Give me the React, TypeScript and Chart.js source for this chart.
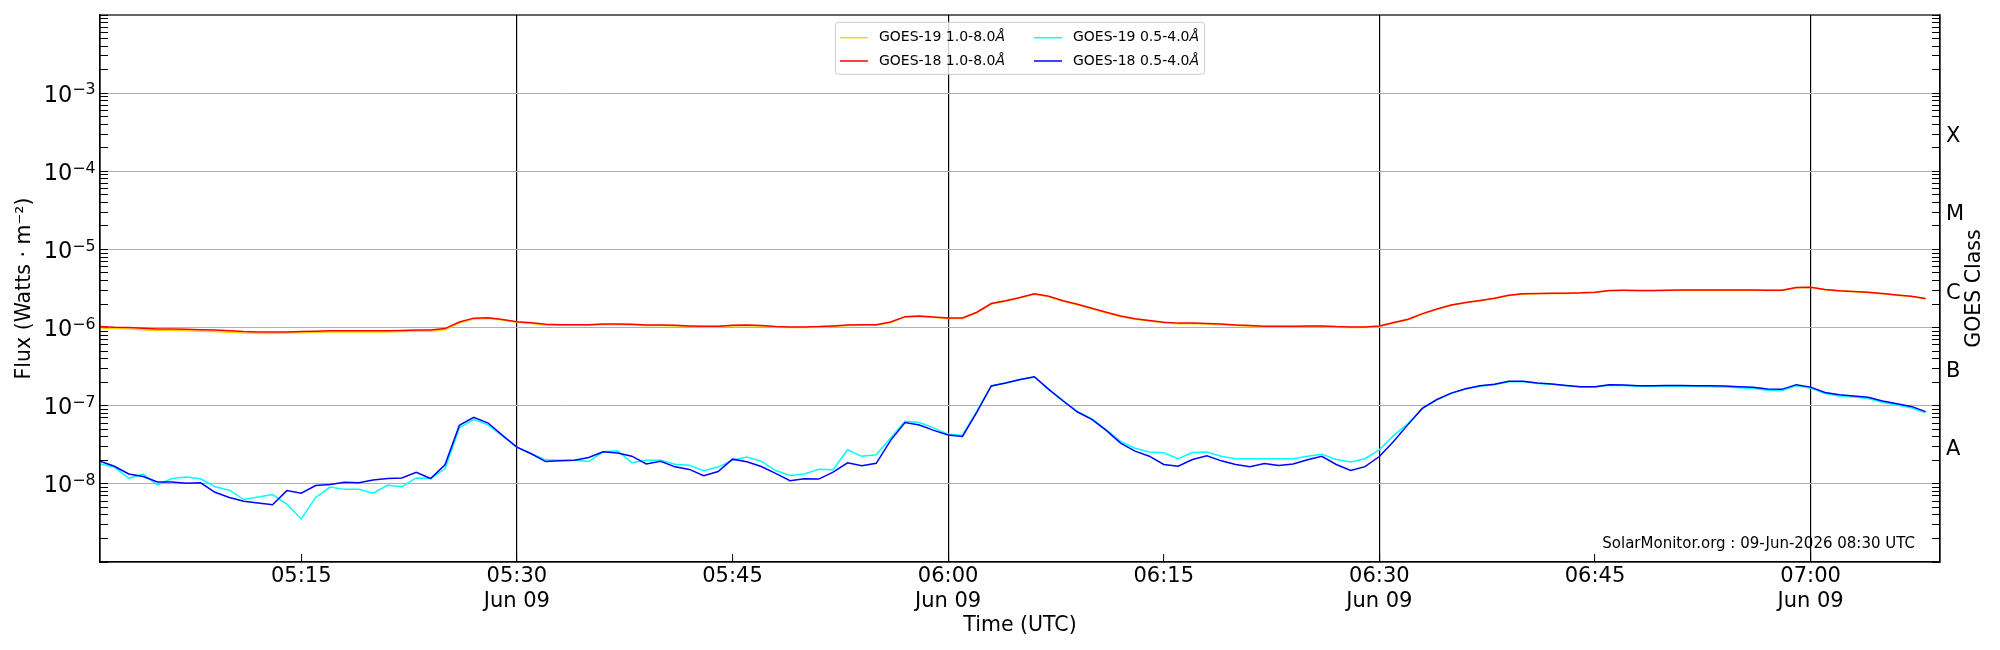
import React, { useEffect, useRef } from 'react';
import { Chart, registerables } from 'chart.js';

Chart.register(...registerables);

// one sample per minute, starting 05:01 UTC
const START_MINUTE = 5 * 60 + 1;

const goes19Long = [
  9.9e-7, 9.7e-7, 9.6e-7, 9.4e-7, 9.2e-7, 9.2e-7, 9.1e-7, 9.0e-7,
  8.9e-7, 8.7e-7, 8.5e-7, 8.4e-7, 8.4e-7, 8.5e-7, 8.6e-7, 8.7e-7,
  8.8e-7, 8.8e-7, 8.8e-7, 8.8e-7, 8.8e-7, 8.9e-7, 9.0e-7, 9.0e-7,
  9.4e-7, 1.15e-6, 1.29e-6, 1.31e-6, 1.25e-6, 1.17e-6, 1.13e-6, 1.08e-6,
  1.07e-6, 1.07e-6, 1.07e-6, 1.09e-6, 1.09e-6, 1.08e-6, 1.06e-6, 1.06e-6,
  1.05e-6, 1.03e-6, 1.02e-6, 1.02e-6, 1.05e-6, 1.06e-6, 1.04e-6, 1.01e-6,
  1.0e-6, 1.0e-6, 1.01e-6, 1.03e-6, 1.06e-6, 1.07e-6, 1.07e-6, 1.16e-6,
  1.36e-6, 1.39e-6, 1.35e-6, 1.31e-6, 1.31e-6, 1.55e-6, 2.0e-6, 2.17e-6,
  2.4e-6, 2.67e-6, 2.49e-6, 2.17e-6, 1.96e-6, 1.74e-6, 1.55e-6, 1.39e-6,
  1.28e-6, 1.21e-6, 1.15e-6, 1.12e-6, 1.12e-6, 1.11e-6, 1.09e-6, 1.06e-6,
  1.04e-6, 1.02e-6, 1.02e-6, 1.02e-6, 1.03e-6, 1.03e-6, 1.01e-6, 1.0e-6,
  1.0e-6, 1.03e-6, 1.14e-6, 1.26e-6, 1.49e-6, 1.71e-6, 1.93e-6, 2.07e-6,
  2.2e-6, 2.36e-6, 2.58e-6, 2.68e-6, 2.71e-6, 2.73e-6, 2.73e-6, 2.76e-6,
  2.82e-6, 2.97e-6, 2.98e-6, 2.97e-6, 2.97e-6, 2.98e-6, 3.0e-6, 3.0e-6,
  3.01e-6, 3.01e-6, 3.01e-6, 3.0e-6, 2.98e-6, 2.98e-6, 3.24e-6, 3.27e-6,
  3.05e-6, 2.93e-6, 2.88e-6, 2.82e-6, 2.71e-6, 2.6e-6, 2.5e-6, 2.33e-6,
];

const goes18Long = [
  1.03e-6, 1.01e-6, 1.0e-6, 9.8e-7, 9.6e-7, 9.6e-7, 9.5e-7, 9.4e-7,
  9.3e-7, 9.1e-7, 8.9e-7, 8.8e-7, 8.8e-7, 8.8e-7, 8.9e-7, 9.0e-7,
  9.1e-7, 9.1e-7, 9.1e-7, 9.1e-7, 9.1e-7, 9.2e-7, 9.3e-7, 9.3e-7,
  9.7e-7, 1.18e-6, 1.32e-6, 1.34e-6, 1.27e-6, 1.19e-6, 1.15e-6, 1.1e-6,
  1.09e-6, 1.09e-6, 1.09e-6, 1.11e-6, 1.11e-6, 1.1e-6, 1.08e-6, 1.08e-6,
  1.07e-6, 1.05e-6, 1.04e-6, 1.04e-6, 1.07e-6, 1.08e-6, 1.06e-6, 1.03e-6,
  1.02e-6, 1.02e-6, 1.03e-6, 1.05e-6, 1.08e-6, 1.09e-6, 1.09e-6, 1.18e-6,
  1.38e-6, 1.41e-6, 1.37e-6, 1.33e-6, 1.33e-6, 1.57e-6, 2.03e-6, 2.2e-6,
  2.43e-6, 2.7e-6, 2.52e-6, 2.2e-6, 1.99e-6, 1.77e-6, 1.57e-6, 1.41e-6,
  1.3e-6, 1.23e-6, 1.17e-6, 1.14e-6, 1.14e-6, 1.13e-6, 1.11e-6, 1.08e-6,
  1.06e-6, 1.04e-6, 1.04e-6, 1.04e-6, 1.05e-6, 1.05e-6, 1.03e-6, 1.02e-6,
  1.02e-6, 1.05e-6, 1.16e-6, 1.28e-6, 1.51e-6, 1.73e-6, 1.95e-6, 2.09e-6,
  2.22e-6, 2.38e-6, 2.6e-6, 2.7e-6, 2.73e-6, 2.75e-6, 2.75e-6, 2.78e-6,
  2.84e-6, 2.99e-6, 3.0e-6, 2.99e-6, 2.99e-6, 3.0e-6, 3.02e-6, 3.02e-6,
  3.03e-6, 3.03e-6, 3.03e-6, 3.02e-6, 3.0e-6, 3.0e-6, 3.26e-6, 3.29e-6,
  3.07e-6, 2.95e-6, 2.9e-6, 2.84e-6, 2.73e-6, 2.62e-6, 2.52e-6, 2.35e-6,
];

const goes19Short = [
  1.8e-8, 1.64e-8, 1.18e-8, 1.33e-8, 9.7e-9, 1.17e-8, 1.22e-8, 1.16e-8,
  9.2e-9, 8.3e-9, 6.3e-9, 6.8e-9, 7.3e-9, 5.5e-9, 3.56e-9, 6.7e-9,
  9.1e-9, 8.5e-9, 8.5e-9, 7.6e-9, 9.6e-9, 9.2e-9, 1.19e-8, 1.17e-8,
  1.56e-8, 5.2e-8, 6.7e-8, 5.7e-8, 4.1e-8, 2.95e-8, 2.43e-8, 2.03e-8,
  2.0e-8, 2.0e-8, 1.93e-8, 2.57e-8, 2.65e-8, 1.86e-8, 2.0e-8, 2.0e-8,
  1.78e-8, 1.73e-8, 1.47e-8, 1.64e-8, 2.0e-8, 2.2e-8, 1.95e-8, 1.48e-8,
  1.28e-8, 1.34e-8, 1.54e-8, 1.52e-8, 2.73e-8, 2.25e-8, 2.36e-8, 3.85e-8,
  6.3e-8, 6.1e-8, 5.2e-8, 4.3e-8, 4.2e-8, 8.5e-8, 1.79e-7, 1.95e-7,
  2.15e-7, 2.33e-7, 1.62e-7, 1.16e-7, 8.4e-8, 6.8e-8, 4.9e-8, 3.5e-8,
  2.86e-8, 2.55e-8, 2.5e-8, 2.1e-8, 2.52e-8, 2.55e-8, 2.26e-8, 2.1e-8,
  2.1e-8, 2.1e-8, 2.1e-8, 2.1e-8, 2.25e-8, 2.4e-8, 2.05e-8, 1.91e-8,
  2.1e-8, 2.73e-8, 4.17e-8, 5.9e-8, 9.2e-8, 1.19e-7, 1.44e-7, 1.63e-7,
  1.78e-7, 1.86e-7, 2.03e-7, 2.03e-7, 1.93e-7, 1.88e-7, 1.8e-7, 1.73e-7,
  1.73e-7, 1.83e-7, 1.81e-7, 1.77e-7, 1.76e-7, 1.77e-7, 1.77e-7, 1.76e-7,
  1.75e-7, 1.73e-7, 1.7e-7, 1.66e-7, 1.58e-7, 1.57e-7, 1.8e-7, 1.68e-7,
  1.43e-7, 1.33e-7, 1.29e-7, 1.24e-7, 1.11e-7, 1.02e-7, 9.4e-8, 8.1e-8,
];

const goes18Short = [
  1.95e-8, 1.68e-8, 1.34e-8, 1.24e-8, 1.06e-8, 1.06e-8, 1.02e-8, 1.03e-8,
  7.8e-9, 6.7e-9, 6.0e-9, 5.7e-9, 5.4e-9, 8.2e-9, 7.6e-9, 9.5e-9,
  9.8e-9, 1.05e-8, 1.03e-8, 1.12e-8, 1.17e-8, 1.19e-8, 1.41e-8, 1.17e-8,
  1.75e-8, 5.6e-8, 7.1e-8, 6.0e-8, 4.17e-8, 2.95e-8, 2.43e-8, 1.93e-8,
  1.97e-8, 2.0e-8, 2.18e-8, 2.57e-8, 2.48e-8, 2.26e-8, 1.8e-8, 1.95e-8,
  1.65e-8, 1.53e-8, 1.27e-8, 1.44e-8, 2.07e-8, 1.92e-8, 1.67e-8, 1.36e-8,
  1.1e-8, 1.16e-8, 1.15e-8, 1.41e-8, 1.86e-8, 1.7e-8, 1.83e-8, 3.6e-8,
  6.1e-8, 5.65e-8, 4.83e-8, 4.21e-8, 4.05e-8, 8.3e-8, 1.79e-7, 1.95e-7,
  2.16e-7, 2.35e-7, 1.62e-7, 1.15e-7, 8.3e-8, 6.7e-8, 4.83e-8, 3.32e-8,
  2.62e-8, 2.26e-8, 1.77e-8, 1.68e-8, 2.05e-8, 2.28e-8, 1.97e-8, 1.77e-8,
  1.66e-8, 1.82e-8, 1.72e-8, 1.8e-8, 2.03e-8, 2.25e-8, 1.77e-8, 1.48e-8,
  1.66e-8, 2.24e-8, 3.5e-8, 5.77e-8, 9.3e-8, 1.2e-7, 1.45e-7, 1.65e-7,
  1.8e-7, 1.88e-7, 2.05e-7, 2.05e-7, 1.95e-7, 1.9e-7, 1.82e-7, 1.75e-7,
  1.75e-7, 1.86e-7, 1.84e-7, 1.8e-7, 1.8e-7, 1.82e-7, 1.82e-7, 1.8e-7,
  1.8e-7, 1.79e-7, 1.75e-7, 1.72e-7, 1.64e-7, 1.62e-7, 1.86e-7, 1.73e-7,
  1.48e-7, 1.38e-7, 1.33e-7, 1.28e-7, 1.15e-7, 1.06e-7, 9.8e-8, 8.4e-8,
];

// x ticks in minutes of the day
const timeTicks = [315, 330, 345, 360, 375, 390, 405, 420];
const dateLabel = 'Jun 09';
const decadeLabels = [-8, -7, -6, -5, -4, -3];
const classLetters = ['A', 'B', 'C', 'M', 'X'];
const classExponents = [-7.56, -6.56, -5.56, -4.56, -3.56];
const footnote = 'SolarMonitor.org : 09-Jun-2026 08:30 UTC';

const FONT = 'DejaVu Sans';

const logTicks = () => {
  const out: { value: number; major: boolean }[] = [];
  for (let e = -9; e <= -3; e++) {
    for (let m = 1; m <= 9; m++) out.push({ value: Number((m * 10 ** e).toPrecision(3)), major: m === 1 });
  }
  out.push({ value: 1e-2, major: true });
  return out;
};

const isDecade = (v: number) => {
  const e = Math.log10(v);
  return Math.abs(e - Math.round(e)) < 1e-6;
};
const classIndex = (v: number) => classExponents.findIndex((e) => Math.abs(Math.log10(v) - e) < 1e-6);

const pad2 = (n: number) => String(n).padStart(2, '0');
const hhmm = (m: number) => `${pad2(Math.floor(m / 60))}:${pad2(m % 60)}`;
const toPoints = (vals: number[]) => vals.map((y, i) => ({ x: START_MINUTE + i, y }));

const decorPlugin = {
  id: 'goesDecor',
  afterDatasetsDraw(chart: Chart) {
    const { ctx, chartArea } = chart;
    const { left, right, top, bottom } = chartArea;
    ctx.save();

    // frame on all four sides
    ctx.strokeStyle = '#000';
    ctx.lineWidth = 1.2;
    ctx.strokeRect(left, top, right - left, bottom - top);

    // power-of-ten labels on the flux axis
    const yScale = chart.scales.y;
    decadeLabels.forEach((e) => {
      const y = yScale.getPixelForValue(10 ** e);
      const sup = '\u2212' + String(-e);
      ctx.fillStyle = '#000';
      ctx.textBaseline = 'alphabetic';
      ctx.font = `15.75px "${FONT}"`;
      const supW = ctx.measureText(sup).width;
      const xr = left - 4.5;
      ctx.textAlign = 'left';
      ctx.fillText(sup, xr - supW, y + 1.3);
      ctx.font = `22.5px "${FONT}"`;
      ctx.textAlign = 'right';
      ctx.fillText('10', xr - supW, y + 8.4);
    });

    // legend, two columns filled top to bottom
    const ds = chart.data.datasets;
    const cols = [[ds[0], ds[1]], [ds[2], ds[3]]];
    ctx.font = `14px "${FONT}"`;
    const colText = cols.map((c) => Math.max(...c.map((d) => ctx.measureText(String(d.label)).width)));
    const lineLen = 28;
    const gap = 11;
    const boxW = 4.5 + lineLen + gap + colText[0] + 29 + lineLen + gap + colText[1] + 5.5;
    const boxH = 52;
    const bx = (left + right) / 2 - boxW / 2;
    const by = top + 7.3;
    ctx.beginPath();
    ctx.roundRect(bx, by, boxW, boxH, 3);
    ctx.fillStyle = 'rgba(255,255,255,0.8)';
    ctx.fill();
    ctx.strokeStyle = '#cccccc';
    ctx.lineWidth = 1;
    ctx.stroke();

    let cx = bx + 4.5;
    cols.forEach((c, ci) => {
      c.forEach((d, ri) => {
        const y = by + 15.4 + ri * 23.3;
        ctx.strokeStyle = String(d.borderColor);
        ctx.lineWidth = 1.5;
        ctx.beginPath();
        ctx.moveTo(cx, y);
        ctx.lineTo(cx + lineLen, y);
        ctx.stroke();
        const label = String(d.label);
        const plain = label.endsWith('Å') ? label.slice(0, -1) : label;
        ctx.fillStyle = '#000';
        ctx.textAlign = 'left';
        ctx.textBaseline = 'middle';
        ctx.font = `14px "${FONT}"`;
        ctx.fillText(plain, cx + lineLen + gap, y);
        if (plain !== label) {
          const w = ctx.measureText(plain).width;
          ctx.font = `italic 14px "${FONT}"`;
          ctx.fillText('Å', cx + lineLen + gap + w, y);
        }
      });
      cx += lineLen + gap + colText[ci] + 29;
    });

    // footnote
    ctx.font = `15px "${FONT}"`;
    ctx.fillStyle = '#000';
    ctx.textAlign = 'right';
    ctx.textBaseline = 'middle';
    ctx.fillText(footnote, right - 25, bottom - 18);

    // right axis title, reading bottom to top
    ctx.translate(right + 35, (top + bottom) / 2);
    ctx.rotate(-Math.PI / 2);
    ctx.font = `20.5px "${FONT}"`;
    ctx.textAlign = 'center';
    ctx.fillText('GOES Class', 0, 0);
    ctx.restore();
  },
};

export default function App() {
  const canvasRef = useRef<HTMLCanvasElement>(null);
  const chartInstance = useRef<Chart | null>(null);

  useEffect(() => {
    if (!canvasRef.current) return;
    const ctx = canvasRef.current.getContext('2d');
    if (!ctx) return;

    Chart.defaults.font.family = FONT;
    Chart.defaults.color = '#000';

    const line = (label: string, vals: number[], color: string, order: number) => ({
      label,
      data: toPoints(vals),
      borderColor: color,
      backgroundColor: color,
      borderWidth: 1.5,
      pointRadius: 0,
      tension: 0,
      fill: false,
      order,
    });

    const noPad = (scale: any) => {
      scale.paddingTop = 0;
      scale.paddingBottom = 0;
      scale.paddingLeft = 0;
      scale.paddingRight = 0;
    };

    chartInstance.current = new Chart(ctx, {
      type: 'line',
      data: {
        datasets: [
          line('GOES-19 1.0-8.0Å', goes19Long, '#ffd700', 3),
          line('GOES-18 1.0-8.0Å', goes18Long, '#ff0000', 2),
          line('GOES-19 0.5-4.0Å', goes19Short, '#00ffff', 1),
          line('GOES-18 0.5-4.0Å', goes18Short, '#0000ff', 0),
        ],
      },
      options: {
        responsive: false,
        animation: false,
        layout: { padding: { top: 15, left: 0, right: 0, bottom: 0 } },
        plugins: {
          legend: { display: false },
          tooltip: { enabled: false },
        },
        scales: {
          x: {
            type: 'linear',
            position: 'bottom',
            min: START_MINUTE,
            max: START_MINUTE + 128,
            afterBuildTicks: (scale: any) => {
              scale.ticks = timeTicks.map((value) => ({ value }));
            },
            afterFit: (scale: any) => {
              scale.height = 88;
              noPad(scale);
            },
            ticks: {
              autoSkip: false,
              maxRotation: 0,
              padding: 9.5,
              font: { size: 21, lineHeight: 1.2 },
              color: '#000',
              callback: (value: any) => {
                const v = Number(value);
                return v % 30 === 0 ? [hhmm(v), dateLabel] : hhmm(v);
              },
            },
            grid: {
              color: (c: any) => (c.tick && c.tick.value % 30 === 0 ? '#000' : 'rgba(0,0,0,0)'),
              lineWidth: 1.2,
              tickLength: -8,
              tickColor: '#000',
              tickWidth: 1,
            },
            border: { display: true, color: '#000', width: 1.2 },
            title: {
              display: true,
              text: 'Time (UTC)',
              font: { size: 20.5 },
              color: '#000',
              padding: { top: 0, bottom: 12.5 },
            },
          },
          y: {
            type: 'logarithmic',
            position: 'left',
            min: 1e-9,
            max: 1e-2,
            afterBuildTicks: (scale: any) => {
              scale.ticks = logTicks();
            },
            afterFit: (scale: any) => {
              scale.width = 100;
              noPad(scale);
            },
            ticks: {
              autoSkip: false,
              padding: 12,
              font: { size: 20 },
              color: '#000',
              // decade labels are drawn by goesDecor with a raised exponent
              callback: () => '',
            },
            grid: {
              color: (c: any) => {
                if (!c.tick) return 'rgba(0,0,0,0)';
                const v = c.tick.value;
                if (!isDecade(v)) return 'rgba(0,0,0,0)';
                const e = Math.round(Math.log10(v));
                return decadeLabels.includes(e) ? '#b0b0b0' : 'rgba(0,0,0,0)';
              },
              lineWidth: 1,
              tickLength: -8,
              tickColor: '#000',
              tickWidth: 1,
            },
            border: { display: true, color: '#000', width: 1.2 },
            title: {
              display: true,
              text: 'Flux (Watts · m⁻²)',
              font: { size: 20.5 },
              color: '#000',
              padding: { top: 12.5, bottom: 0 },
            },
          },
          y2: {
            type: 'logarithmic',
            position: 'right',
            min: 1e-9,
            max: 1e-2,
            afterBuildTicks: (scale: any) => {
              const t = logTicks().concat(classExponents.map((e) => ({ value: 10 ** e, major: false })));
              t.sort((a, b) => a.value - b.value);
              scale.ticks = t;
            },
            afterFit: (scale: any) => {
              scale.width = 60;
              noPad(scale);
            },
            ticks: {
              autoSkip: false,
              padding: 14,
              font: { size: 21 },
              color: '#000',
              callback: (value: any) => {
                const i = classIndex(Number(value));
                return i >= 0 ? classLetters[i] : '';
              },
            },
            grid: {
              drawOnChartArea: false,
              tickLength: -8,
              tickColor: (c: any) => (c.tick && classIndex(c.tick.value) >= 0 ? 'rgba(0,0,0,0)' : '#000'),
              tickWidth: 1,
            },
            border: { display: true, color: '#000', width: 1.2 },
          },
        },
      },
      plugins: [decorPlugin],
    } as any);

    return () => {
      chartInstance.current?.destroy();
    };
  }, []);

  return (
    <div style={{ position: 'absolute', left: 0, top: 0, width: 2000, height: 650, background: '#fff' }}>
      <canvas ref={canvasRef} width={2000} height={650} />
    </div>
  );
}
